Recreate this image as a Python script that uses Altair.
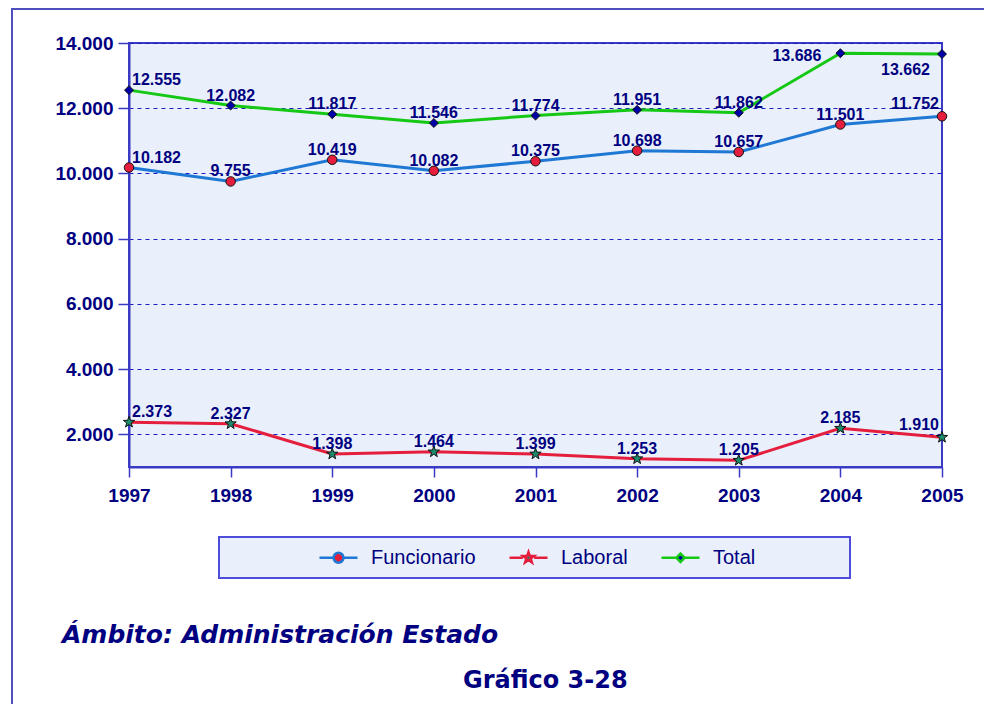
import altair as alt
import pandas as pd

# ---------------- data ----------------
years = [1997, 1998, 1999, 2000, 2001, 2002, 2003, 2004, 2005]
funcionario = [10182, 9755, 10419, 10082, 10375, 10698, 10657, 11501, 11752]
laboral = [2373, 2327, 1398, 1464, 1399, 1253, 1205, 2185, 1910]
total = [12555, 12082, 11817, 11546, 11774, 11951, 11862, 13686, 13662]
series_names = ["Funcionario", "Laboral", "Total"]
series_values = [funcionario, laboral, total]
y_ticks = [2000, 4000, 6000, 8000, 10000, 12000, 14000]
title_text = "Ámbito: Administración Estado"
subtitle_text = "Gráfico 3-28"

# ---------------- styles ----------------
NAVY = "#000080"
AXIS_BLUE = "#3a3ac4"
PLOT_BG = "#e9f0fb"
line_colors = ["#1f78d4", "#e41e3c", "#14c814"]
marker_fills = ["#e41e3c", "#1b8c6c", "#0000a8"]
STAR = ("M0,-1L0.235,-0.324L0.951,-0.309L0.380,0.124L0.588,0.809L0,0.4"
        "L-0.588,0.809L-0.380,0.124L-0.951,-0.309L-0.235,-0.324Z")
marker_shapes = ["circle", STAR, "diamond"]
marker_sizes = [90, 140, 80]
legend_shapes = [
    "M-1,0L-0.26,0M0.26,0L1,0M0.26,0A0.26,0.26,0,1,1,-0.26,0A0.26,0.26,0,1,1,0.26,0Z",
    "M-1,0L-0.3,0M0.3,0L1,0M0,-0.3L0.07,-0.097L0.285,-0.093L0.114,0.037L0.176,0.243L0,0.12"
    "L-0.176,0.243L-0.114,0.037L-0.285,-0.093L-0.07,-0.097Z",
    "M-1,0L-0.22,0M0.22,0L1,0M0,-0.22L0.22,0L0,0.22L-0.22,0Z",
]

rows = []
for name, vals in zip(series_names, series_values):
    for yr, v in zip(years, vals):
        rows.append({"year": yr, "value": v, "series": name})
df = pd.DataFrame(rows)

LABEL_EXPR = "replace(format(datum.value, ','), ',', '.')"

X = alt.X("year:O", scale=alt.Scale(padding=0), title=None,
          axis=alt.Axis(labelAngle=0, labelFont="Liberation Sans", labelFontSize=19,
                        labelFontWeight="bold", labelColor=NAVY, tickSize=10,
                        tickColor=AXIS_BLUE, domainColor=AXIS_BLUE, domainWidth=2,
                        tickWidth=1.5, labelPadding=9, grid=False))
Y = alt.Y("value:Q", scale=alt.Scale(domain=[1000, 14000], nice=False, zero=False), title=None,
          axis=alt.Axis(values=y_ticks, labelExpr=LABEL_EXPR, labelFont="Liberation Sans",
                        labelFontSize=19, labelFontWeight="bold", labelColor=NAVY,
                        tickSize=11, tickColor=AXIS_BLUE, tickWidth=1.5, domainColor=AXIS_BLUE,
                        domainWidth=2, labelPadding=5, grid=True, gridColor="#1c1cc0",
                        gridDash=[4, 4], gridWidth=1.2))

base = alt.Chart(df).encode(x=X, y=Y)

layers = []

# outer frame
frame_df = pd.DataFrame({"k": [0]})
layers.append(alt.Chart(frame_df).mark_rect(filled=False, stroke="#4f4fc0", strokeWidth=2).encode(
    x=alt.value(-117), x2=alt.value(900), y=alt.value(-34), y2=alt.value(700)))

# legend box
layers.append(alt.Chart(frame_df).mark_rect(fill=PLOT_BG, stroke="#4d4dd9", strokeWidth=2).encode(
    x=alt.value(90), x2=alt.value(721), y=alt.value(494), y2=alt.value(535)))

# lines
for name, col in zip(series_names, line_colors):
    layers.append(base.transform_filter(alt.datum.series == name)
                  .mark_line(color=col, strokeWidth=3))

# markers
for name, fc, shp, sz in zip(series_names, marker_fills, marker_shapes, marker_sizes):
    layers.append(base.transform_filter(alt.datum.series == name)
                  .mark_point(shape=shp, filled=True, fill=fc, stroke="#111111",
                              strokeWidth=1, size=sz, opacity=1))

# value labels
lab = base.transform_calculate(label=LABEL_EXPR)
txt = dict(font="Liberation Sans", fontSize=16, fontWeight="bold", color=NAVY,
           baseline="alphabetic")
first = years[0]
last = years[-1]
layers.append(lab.transform_filter(alt.datum.year == first)
              .mark_text(align="left", dx=3, dy=-5, **txt).encode(text="label:N"))
layers.append(lab.transform_filter(
    (alt.datum.year != first) & (alt.datum.year != last) &
    ~((alt.datum.series == "Total") & (alt.datum.year == 2004)))
              .mark_text(align="center", dy=-5, **txt).encode(text="label:N"))
layers.append(lab.transform_filter((alt.datum.year == last) & (alt.datum.series != "Total"))
              .mark_text(align="right", dx=-3, dy=-7, **txt).encode(text="label:N"))
layers.append(lab.transform_filter((alt.datum.year == 2004) & (alt.datum.series == "Total"))
              .mark_text(align="right", dx=-19, dy=8, **txt).encode(text="label:N"))
layers.append(lab.transform_filter((alt.datum.year == last) & (alt.datum.series == "Total"))
              .mark_text(align="right", dx=-12, dy=21, **txt).encode(text="label:N"))

# legend driver (off-canvas helper marks)
legend_df = pd.DataFrame({"series": series_names})
leg = alt.Legend(orient="none", legendX=189, legendY=494, direction="horizontal", title=None,
                 symbolSize=1444, symbolStrokeWidth=2.5, labelFont="Liberation Sans",
                 labelFontSize=20, labelColor=NAVY, labelOffset=12, columnPadding=28,
                 padding=0, symbolOpacity=1)
layers.append(alt.Chart(legend_df).mark_point(filled=True, opacity=1).encode(
    x=alt.value(-500), y=alt.value(-500),
    fill=alt.Fill("series:N", scale=alt.Scale(domain=series_names, range=marker_fills), legend=leg),
    stroke=alt.Stroke("series:N", scale=alt.Scale(domain=series_names, range=line_colors), legend=leg),
    shape=alt.Shape("series:N", scale=alt.Scale(domain=series_names, range=legend_shapes), legend=leg),
))

# titles
layers.append(alt.Chart(frame_df).mark_text(
    align="left", baseline="alphabetic", font="DejaVu Sans", fontSize=25, fontWeight="bold",
    fontStyle="italic", color=NAVY).encode(x=alt.value(-67), y=alt.value(600),
                                            text=alt.value(title_text)))
layers.append(alt.Chart(frame_df).mark_text(
    align="left", baseline="alphabetic", font="DejaVu Sans", fontSize=24, fontWeight="bold",
    color=NAVY).encode(x=alt.value(334), y=alt.value(645), text=alt.value(subtitle_text)))

chart = alt.layer(*layers).properties(
    width=813, height=424,
    autosize=alt.AutoSizeParams(type="none"),
    padding={"left": 121, "top": 35, "right": 42, "bottom": 237},
    background="white",
).configure_view(fill=PLOT_BG, stroke=AXIS_BLUE, strokeWidth=2)

chart.save("out.html", embed_options={"renderer": "svg", "actions": False})
